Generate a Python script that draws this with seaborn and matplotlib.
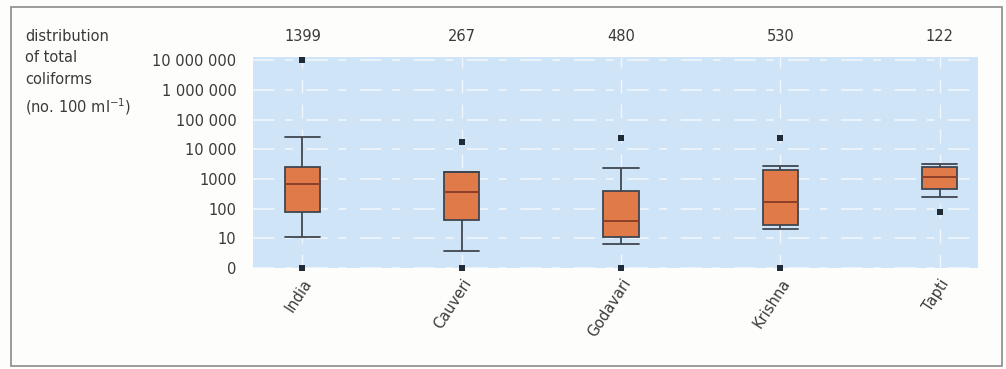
import numpy as np
import pandas as pd
import matplotlib
matplotlib.use("Agg")
import matplotlib.pyplot as plt
import matplotlib.transforms as mtransforms
from matplotlib.patches import Rectangle
import seaborn as sns

# Total coliform distribution per river (no. per 100 ml)
rivers = ["India", "Cauveri", "Godavari", "Krishna", "Tapti"]
sample_counts = [1399, 267, 480, 530, 122]
whisker_low = [11, 3.7, 6.4, 20, 245]
q1 = [77, 41, 11, 28, 460]
median = [675, 360, 38, 165, 1150]
q3 = [2500, 1700, 390, 2000, 2500]
whisker_high = [25700, 1700, 2300, 2700, 3200]

# Extreme values drawn as separate points ("0" is shown at 1 on the log axis)
outlier_river = ["India", "India", "Cauveri", "Cauveri", "Godavari", "Godavari",
                 "Krishna", "Krishna", "Tapti"]
outlier_value = [1e7, 1, 17500, 1, 24000, 1, 24000, 1, 77]

ytick_values = [1, 10, 100, 1000, 1e4, 1e5, 1e6, 1e7]
ytick_labels = ["0", "10", "100", "1000", "10 000", "100 000",
                "1 000 000", "10 000 000"]

# Five-number summaries as long-form data; with whis=(0, 100) the box and
# whiskers reproduce the summary exactly.
box_df = pd.DataFrame({
    "river": np.repeat(rivers, 5),
    "value": np.column_stack([whisker_low, q1, median, q3, whisker_high]).ravel(),
})
out_df = pd.DataFrame({"river": outlier_river, "value": outlier_value})

sns.set_theme(style="white")
plt.rcParams["font.family"] = ["DejaVu Sans"]
text_color = "#3a3a3a"

fig = plt.figure(figsize=(10.06, 3.69), dpi=100, facecolor="#fdfdfc")
ax = fig.add_axes([0.2515, 0.274, 0.7205, 0.571])
ax.set_facecolor("#cfe4f7")
ax.set_yscale("log")

box_width = 0.22
sns.boxplot(data=box_df, x="river", y="value", order=rivers, ax=ax,
            whis=(0, 100), width=box_width, saturation=1, color="#e07a48",
            linecolor="#3f4650", linewidth=1.3,
            medianprops={"color": "#8c3f28", "linewidth": 1.4})

# Whisker caps span the full box width
for line in ax.lines:
    xd = np.asarray(line.get_xdata(), dtype=float)
    yd = np.asarray(line.get_ydata(), dtype=float)
    if len(xd) == 2 and yd[0] == yd[1] and line.get_color() != "#8c3f28":
        c = xd.mean()
        if abs(xd[1] - xd[0]) < box_width * 0.9:
            line.set_xdata([c - box_width / 2, c + box_width / 2])

sns.stripplot(data=out_df, x="river", y="value", order=rivers, ax=ax,
              jitter=False, marker="s", size=5, color="#1f2b36",
              linewidth=0, zorder=5)
for coll in ax.collections:
    coll.set_clip_on(False)

ax.set_xlim(-0.31, 4.24)
ax.set_ylim(10 ** 0.07, 10 ** 7.1)
ax.set_yticks(ytick_values)
ax.set_yticklabels(ytick_labels)
ax.yaxis.set_minor_locator(matplotlib.ticker.NullLocator())
ax.set_xlabel("")
ax.set_ylabel("")

# Broken white guide lines across the panel
ax.grid(True, axis="y", color="white", linestyle=(0, (14, 7, 5, 9)),
        linewidth=1.1, alpha=0.75)
ax.grid(True, axis="x", color="white", linestyle=(0, (10, 8)),
        linewidth=1.0, alpha=0.7)
ax.set_axisbelow(True)
for spine in ax.spines.values():
    spine.set_visible(False)

ax.tick_params(axis="both", length=0, labelsize=10.5, colors=text_color)
ax.tick_params(axis="y", pad=12)
ax.tick_params(axis="x", pad=6)
for lbl in ax.get_xticklabels():
    lbl.set_rotation(57)
    lbl.set_ha("right")
    lbl.set_va("top")
    lbl.set_rotation_mode("anchor")

# Sample counts above each column
trans = mtransforms.blended_transform_factory(ax.transData, fig.transFigure)
for i, n in enumerate(sample_counts):
    ax.text(i, 0.9, str(n), transform=trans, ha="center", va="center",
            fontsize=10.5, color=text_color)

fig.text(0.025, 0.922,
         "distribution\nof total\ncoliforms\n(no. 100 ml$^{-1}$)",
         ha="left", va="top", fontsize=10.5, color=text_color, linespacing=1.55)

# Outer frame
fig.patches.append(Rectangle((11 / 1006, 3 / 369), 991 / 1006, 359 / 369,
                             transform=fig.transFigure, fill=False,
                             edgecolor="#8a8a8a", linewidth=1.2))

fig.savefig("out.png", dpi=100, facecolor=fig.get_facecolor())
